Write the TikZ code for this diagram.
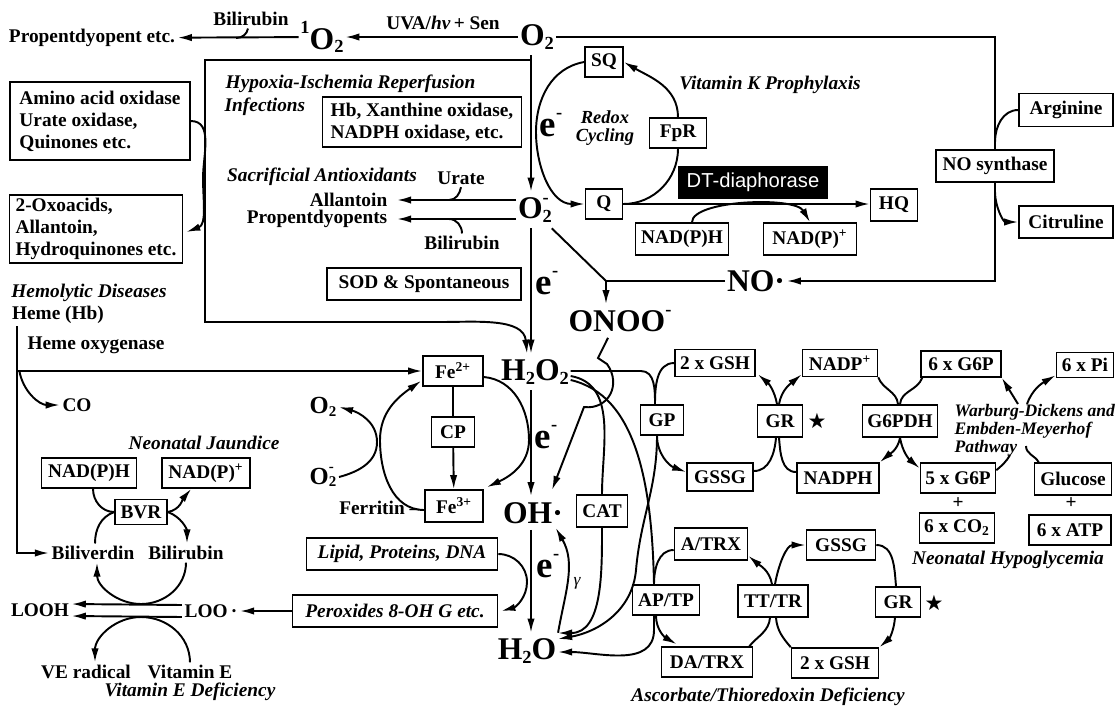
\documentclass[tikz,border=0pt]{standalone}
\usepackage{fontspec}
\setmainfont{Liberation Serif}
\newfontfamily\sansf{Liberation Sans}
\newfontfamily\symf{DejaVu Sans}
\usetikzlibrary{arrows.meta,calc}
% small sub/superscripts for the large chemical labels
\newcommand{\bsub}[1]{\raisebox{-0.1em}{\fontsize{10.5}{10.5}\selectfont #1}}
\newcommand{\bsup}[1]{\raisebox{0.5em}{\fontsize{10.5}{10.5}\selectfont #1}}
\newcommand{\msub}[1]{\raisebox{-0.1em}{\fontsize{8.5}{8.5}\selectfont #1}}
\newcommand{\msup}[1]{\raisebox{0.5em}{\fontsize{8.5}{8.5}\selectfont #1}}
\newcommand{\Otwom}{O\rlap{\bsup{-}}\bsub{2}}
\newcommand{\Otwomsm}{O\rlap{\msup{-}}\msub{2}}
\newcommand{\elec}{e\bsup{-}}

\tikzset{
  arr/.style={-{Latex[length=8pt,width=4.2pt]}},
  box/.style={draw, line width=0.9pt, inner sep=1pt},
  sz/.style 2 args={minimum width=#1*0.02cm, minimum height=#2*0.02cm},
  big/.style={inner xsep=0.5pt, inner ysep=3pt, font=\bfseries\fontsize{18}{18}\selectfont},
  mid/.style={inner sep=1pt, font=\bfseries\fontsize{14}{14}\selectfont},
  eminus/.style={inner sep=0pt, font=\bfseries\fontsize{21}{21}\selectfont},
  lbl/.style={inner sep=1pt, font=\bfseries\itshape\fontsize{11}{12}\selectfont},
  multi/.style={align=left, font=\bfseries\fontsize{11}{12.5}\selectfont},
  star/.style={font=\symf\fontsize{12}{12}\selectfont},
}

\begin{document}
\begin{tikzpicture}[x=0.02cm, y=-0.02cm, line width=1.1pt, inner sep=1pt,
  font=\bfseries\fontsize{11}{12}\selectfont]
\useasboundingbox (0,0) rectangle (1116,708);
\coordinate (spine) at (531,0);

% top row
\node (bilA) at (251,19) {Bilirubin};
\node (prop) at (92,38) {Propentdyopent etc.};
\node[big] (sO2) at (322,37) {\bsup{1}O\bsub{2}};
\node (uva) at (443,23) {UVA/\textit{hν}\,+ Sen};
\node[big] (O2) at (537,37) {O\bsub{2}};
\draw[arr] (O2) -- (sO2);
\draw[arr] (sO2) -- (prop);
\coordinate (bilJ) at (236,38);
\draw ($(bilA.south)+(-3,0)$) to[out=-100,in=0] (bilJ);

% NO synthase branch
\node[box, sz={94}{33}] (arg) at (1066,110) {Arginine};
\node[box, fill=white, sz={118}{32}] (nos) at (995,166) {NO synthase};
\node[box, sz={94}{32}] (cit) at (1066,222) {Citruline};
\node[big] (NO) at (756,281) {NO·};
\draw (O2.east) -- (O2.east -| nos.north) -- (nos.north);
\draw[arr] (nos.south) |- (NO.east);
\coordinate (argJ) at (995,142);
\coordinate (citJ) at (995,192);
\draw (arg.west) to[out=180,in=90] (argJ);
\draw[arr] (citJ) to[out=-90,in=180] (cit.west);

% hypoxia frame
\node[big] (O2m) at (535,210) {\Otwom};
\node[big] (H2O2) at (535,372) {H\bsub{2}O\bsub{2}};
\coordinate (jtop) at (531,60);
\draw[arr] (O2.south -| spine) -- (O2m.north -| spine);
\draw[arr] (jtop) -| (205,322) -- (440,322) to[out=0,in=95] ($(H2O2.north)+(-8,0)$);
\node[lbl, anchor=west] at (223,84) {Hypoxia-Ischemia Reperfusion};
\node[lbl, anchor=west] at (222,107) {Infections};
\node[box, multi, sz={199}{50}] (hbx) at (422,122) {Hb, Xanthine oxidase,\\NADPH oxidase, etc.};

\node[box, multi, sz={180}{78}] (amino) at (100,121) {Amino acid oxidase\\Urate oxidase,\\Quinones etc.};
\node[box, multi, sz={173}{68}] (oxo) at (96,229) {2-Oxoacids,\\Allantoin,\\Hydroquinones etc.};
\draw[arr] (amino.east) to[out=0,in=90] (203,178) to[out=-90,in=20] ($(oxo.east)+(3,3)$);

% sacrificial antioxidants
\node[lbl] at (322,177) {Sacrificial Antioxidants};
\node (urate) at (461,178) {Urate};
\node[anchor=east, inner xsep=5pt] (allan) at (397,200) {Allantoin};
\node[anchor=east, inner xsep=5pt] (props) at (397,219) {Propentdyopents};
\node (bilB) at (462,243) {Bilirubin};
\draw[arr] (O2m.west |- allan.east) -- (allan.east);
\draw[arr] (O2m.west |- props.east) -- (props.east);
\coordinate (urJ) at (449,200);
\coordinate (brJ) at (449,219);
\draw (urate.south) to[out=-100,in=0] (urJ);
\draw (bilB.north) to[out=90,in=0] (brJ);
\node[box, sz={194}{32}] (sod) at (424,284) {SOD \& Spontaneous};
\draw[arr] (O2m.south -| spine) -- (H2O2.north -| spine);

% redox cycling
\node[box, sz={38}{30}] (SQ) at (604,62) {SQ};
\node[box, sz={57}{30}] (FpR) at (678,133) {FpR};
\node[box, sz={37}{30}] (Q) at (604,204) {Q};
\node[eminus] at (551,125) {\elec};
\node[lbl, align=center, font=\bfseries\itshape\fontsize{10.5}{10}\selectfont] at (605,128) {Redox\\Cycling};
\draw[arr] (SQ.west) to[out=190,in=90] (536,132) to[out=-90,in=180] (Q.west);
\draw (Q.east) to[out=0,in=-90] (FpR.south);
\draw[arr] (FpR.north) to[out=90,in=-30] (SQ.east);
\node[lbl] at (770,85) {Vitamin K Prophylaxis};
\node[fill=black, text=white, sz={150}{33}, font=\sansf\fontsize{11.5}{12}\selectfont] (dt) at (753,182) {DT-diaphorase};
\node[box, sz={47}{32}] (HQ) at (894,205) {HQ};
\draw[arr] (Q.east) -- (Q.east -| HQ.west);
\node[box, sz={93}{32}] (nph1) at (682,239) {NAD(P)H};
\node[box, sz={93}{32}] (npp1) at (810,239) {NAD(P)\textsuperscript{+}};
\draw[arr] ($(nph1.north)+(10,0)$) .. controls (692,200) and (795,196) .. (npp1.north);

% peroxynitrite
\coordinate (jno) at (606,281);
\draw ($(O2m.south east)+(-2,0)$) -- (jno);
\draw (NO.west) -- (jno);
\node[big] (ONOO) at (620,321) {ONOO\bsup{-}};
\draw[arr] (jno) -- (jno |- ONOO.north);
\node[eminus] at (547,283) {\elec};

% hydroxyl radical and water
\node[big] (OH) at (533,513) {OH·};
\node[big] (H2O) at (527,651) {H\bsub{2}O};
\node[eminus] at (546,437) {\elec};
\node[eminus] at (548,566) {\elec};
\draw[arr] (H2O2.south -| spine) -- (OH.north -| spine);
\draw[arr] (OH.south -| spine) -- (H2O.north -| spine);
\coordinate (ohT) at (552,490);
\draw[arr] ($(ONOO.south)+(-12,0)$) -- (598,358) -- (607,364) .. controls (622,385) and (608,410) .. (584,407) -- (ohT);
\node[box, sz={51}{32}] (CAT) at (602,511) {CAT};
\node[font=\itshape\fontsize{10}{10}\selectfont] at (577,583) {γ};
\draw[arr] (H2O.north east) to[out=80,in=-60] ($(OH.south east)+(-9,-2)$);

% glutathione cycle
\node[box, sz={80}{27}] (gsh2) at (715,363) {2 x GSH};
\node[box, sz={43}{30}] (GP) at (662,420) {GP};
\node[box, sz={45}{32}] (GR) at (780,421) {GR};
\node[star] at (817,421) {★};
\node[box, sz={75}{27}] (nadpp) at (840,363) {NADP\textsuperscript{+}};
\node[box, sz={66}{28}] (gssg) at (720,477) {GSSG};
\node[box, sz={82}{30}] (nadph) at (838,478) {NADPH};
\draw ($(H2O2.east)+(0,-1)$) -- (641,371) to[out=0,in=90] ($(GP.north)+(-7,0)$);
\draw ($(GP.north)+(-7,0)$) to[out=90,in=180] (gsh2.west);
\draw[arr] ($(GP.south)+(-5,0)$) to[out=-90,in=160] ($(gssg.west)+(0,-5)$);
\draw[arr] ($(GR.north)+(-3,0)$) to[out=100,in=-40] ($(gsh2.south east)+(2,-3)$);
\draw[arr] ($(GR.north)+(-1,0)$) to[out=80,in=-140] ($(nadpp.south west)+(0,-3)$);
\draw ($(gssg.east)+(0,-6)$) to[out=0,in=-95] ($(GR.south)+(-4,0)$);
\draw ($(nadph.west)+(0,-6)$) to[out=180,in=-85] ($(GR.south)+(-1,0)$);

% pentose phosphate
\node[box, sz={75}{32}] (g6pdh) at (900,421) {G6PDH};
\node[box, sz={80}{26}] (g6p6) at (961,364) {6 x G6P};
\node[box, sz={57}{25}] (pi6) at (1085,365) {6 x Pi};
\node[lbl, align=left, anchor=west, font=\bfseries\itshape\fontsize{10}{10.3}\selectfont] at (952,430) {Warburg-Dickens and\\Embden-Meyerhof\\Pathway};
\node[box, sz={75}{30}] (g6p5) at (958,478) {5 x G6P};
\node at (958,503) {+};
\node at (1071,503) {+};
\node[box, sz={75}{30}] (co2) at (957,528) {6 x CO\textsubscript{2}};
\node[box, sz={77}{32}] (glc) at (1073,479) {Glucose};
\node[box, sz={82}{30}] (atp) at (1070,530) {6 x ATP};
\node[lbl] at (1008,560) {Neonatal Hypoglycemia};
\draw (nadpp.south east) to[out=-70,in=95] ($(g6pdh.north)+(-2,0)$);
\draw ($(g6p6.south west)+(2,0)$) to[out=-110,in=85] (g6pdh.north);
\draw[arr] (g6pdh.south) to[out=-100,in=40] (nadph.north east);
\draw[arr] (g6pdh.south) to[out=-80,in=140] ($(g6p5.north west)+(0,6)$);
\coordinate (wbA) at (1010,455);
\coordinate (wbB) at (1018,404);
\coordinate (wbC) at (1026,446);
\coordinate (wbD) at (1027,404);
\draw ($(g6p5.north east)+(0,8)$) to[out=40,in=-120] (wbA);
\draw[arr] (wbB) -- (g6p6.south east);
\draw ($(glc.north west)+(5,0)$) to[out=120,in=-90] (wbC);
\draw[arr] (wbD) to[out=70,in=-150] ($(pi6.south west)+(0,-3)$);

% ascorbate / thioredoxin
\node[box, sz={73}{32}] (atrx) at (711,544) {A/TRX};
\node[box, sz={67}{30}] (AP) at (666,600) {AP/TP};
\node[box, sz={70}{32}] (TT) at (773,601) {TT/TR};
\node[box, sz={91}{30}] (datrx) at (707,662) {DA/TRX};
\node[box, sz={69}{30}] (gssgB) at (841,545) {GSSG};
\node[box, sz={45}{30}] (grB) at (898,602) {GR};
\node[star] at (934,603) {★};
\node[box, sz={87}{30}] (gshB) at (835,663) {2 x GSH};
\node[lbl] at (768,697) {Ascorbate/Thioredoxin Deficiency};
\draw ($(atrx.west)+(0,6)$) to[out=180,in=90] ($(AP.north)+(-12,0)$);
\draw[arr] ($(AP.south)+(-10,0)$) to[out=-90,in=150] ($(datrx.north west)+(16,-2)$);
\draw[arr] ($(TT.north)+(-1,0)$) to[out=100,in=-40] ($(atrx.south east)+(0,-5)$);
\draw[arr] ($(TT.north)+(2,0)$) to[out=80,in=180] (gssgB.west);
\draw ($(datrx.north east)+(-4,0)$) to[out=50,in=-95] ($(TT.south)+(-3,0)$);
\draw (gshB.north west) to[out=130,in=-85] ($(TT.south)+(3,0)$);
\draw (gssgB.east) to[out=0,in=95] ($(grB.north)+(-2,0)$);
\draw[arr] ($(grB.south)+(-3,0)$) to[out=-95,in=40] (gshB.north east);

% peroxide removal to water
\draw ($(H2O2.east)+(0,4)$) to[out=-10,in=90] (CAT.north);
\draw ($(H2O2.east)+(0,8)$) .. controls (635,395) and (652,480) .. ($(AP.north)+(-12,0)$);
\draw[arr] ($(GP.south)+(-5,0)$) to[out=-90,in=85] (636,570) to[out=-95,in=10] ($(H2O.east)+(0,-12)$);
\draw[arr] (CAT.south) to[out=-90,in=0] ($(H2O.east)+(0,-18)$);
\draw[arr] ($(AP.south)+(-12,0)$) -- (654,630) to[out=-90,in=0] ($(H2O.east)+(0,1)$);

% iron cycle
\node[box, sz={60}{30}] (fe2) at (453,371) {Fe\textsuperscript{2+}};
\node[box, sz={43}{30}] (CP) at (453,432) {CP};
\node[box, sz={58}{32}] (fe3) at (454,506) {Fe\textsuperscript{3+}};
\node[anchor=east] (ferr) at (422,508) {Ferritin --};
\draw (fe2) -- (CP);
\draw[arr] (CP) -- (fe3);
\draw[arr] ($(fe3.west)+(0,4)$) to[out=180,in=-90] (380,440) to[out=90,in=215] ($(fe2.south west)+(-1,-6)$);
\draw[arr] ($(fe2.east)+(0,6)$) to[out=-5,in=90] (529,440) to[out=-90,in=25] ($(fe3.north east)+(3,-2)$);
\node[mid] (o2f) at (323,407) {O\msub{2}};
\node[mid] (o2mf) at (323,477) {\Otwomsm};
\draw[arr] (o2mf.east) to[out=15,in=-90] (377,442) to[out=90,in=-15] (o2f.east);

% heme
\node[lbl] at (89,293) {Hemolytic Diseases};
\node (heme) at (58,315) {Heme (Hb)};
\node (ho) at (96,345) {Heme oxygenase};
\node (CO) at (77,405) {CO};
\node[lbl] at (204,443) {Neonatal Jaundice};
\coordinate (hmT) at ($(heme.south west)+(8,0)$);
\draw[arr] (hmT |- fe2.west) -- (fe2.west);
\draw[arr] ($(hmT |- fe2.west)+(2,0)$) to[out=-80,in=180] (CO.west);

% bilirubin and vitamin E
\node[box, sz={95}{30}] (nphL) at (89,473) {NAD(P)H};
\node[box, sz={88}{30}] (nppL) at (206,473) {NAD(P)\textsuperscript{+}};
\node[box, sz={52}{25}] (BVR) at (141,512) {BVR};
\node (bv) at (93,553) {Biliverdin};
\node (br) at (186,553) {Bilirubin};
\node (LOOH) at (40,610) {LOOH};
\node (LOO) at (211,611) {LOO\,·};
\node (ver) at (86,672) {VE radical};
\node (vite) at (190,672) {Vitamin E};
\node[lbl] at (190,692) {Vitamin E Deficiency};
\draw[arr] (hmT) |- (bv.west);
\draw ($(nphL.south)+(4,0)$) to[out=-90,in=180] (BVR.west);
\draw[arr] (BVR.east) to[out=10,in=-130] ($(nppL.south west)+(30,0)$);
\draw ($(bv.north)+(2,0)$) to[out=90,in=200] (BVR.west);
\draw[arr] (BVR.east) to[out=-20,in=90] ($(br.north)+(1,0)$);
\draw[arr] (br.south) to[out=-90,in=0] (141,604) to[out=180,in=-90] ($(bv.south)+(4,0)$);
\draw[arr] (vite.north) to[out=90,in=0] (141,617) to[out=180,in=90] ($(ver.north)+(9,0)$);
\draw[arr] ($(LOO.west)+(0,-6)$) -- ($(LOOH.east)+(0,-6)$);
\draw[arr] ($(LOO.west)+(0,6)$) -- ($(LOOH.east)+(0,6)$);

% lipid damage
\node[box, lbl, sz={191}{32}] (lipid) at (402,554) {Lipid, Proteins, DNA};
\node[box, lbl, sz={205}{32}] (perox) at (395,611) {Peroxides 8-OH G etc.};
\draw[arr] (lipid.east) to[out=0,in=90] (527,582) to[out=-90,in=15] ($(perox.east)+(3,0)$);
\draw[arr] (perox.west) -- (LOO.east);
\end{tikzpicture}
\end{document}
